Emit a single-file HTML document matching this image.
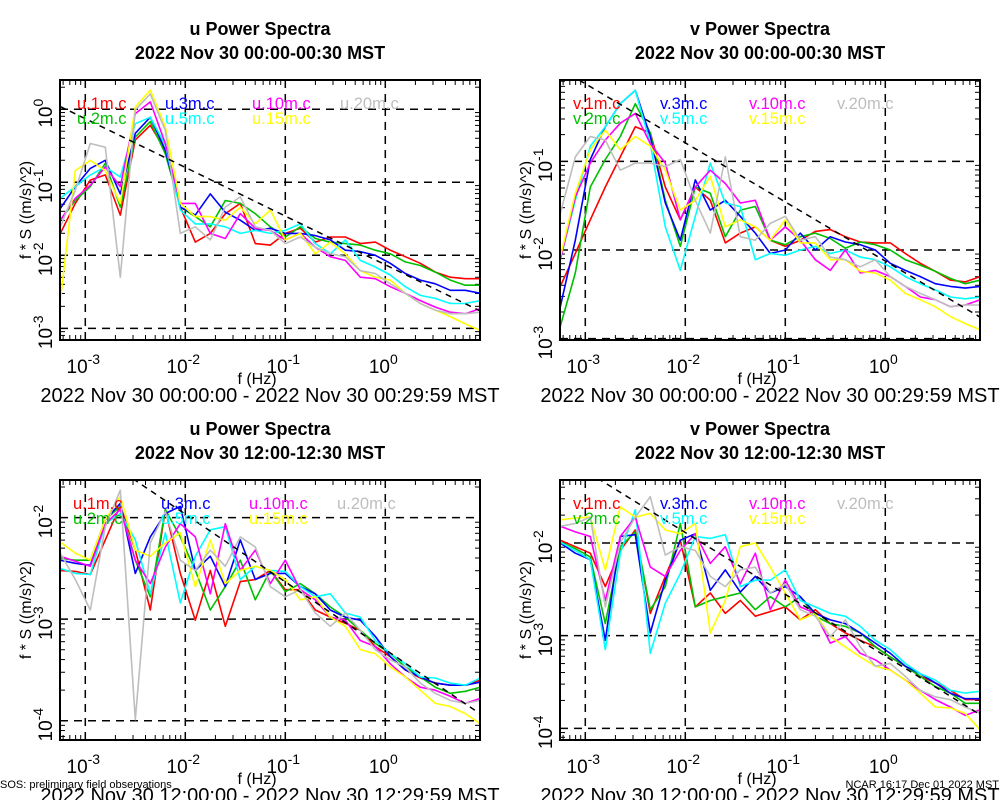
<!DOCTYPE html>
<html><head><meta charset="utf-8"><style>
html,body{margin:0;padding:0;background:#fff;}
svg{display:block;font-family:"Liberation Sans",sans-serif;}
</style></head><body>
<svg id="chart" width="1000" height="800" viewBox="0 0 1000 800"></svg>
<script>
// shared frequency grid: log10 f (Hz)
const logFreq = [-3.25,-3.1,-2.95,-2.8,-2.65,-2.5,-2.35,-2.2,-2.05,-1.9,-1.75,-1.6,-1.45,-1.3,-1.15,-1.0,-0.85,-0.7,-0.55,-0.4,-0.25,-0.1,0.05,0.2,0.35,0.5,0.65,0.8,0.95];
const seriesNames = ["1m","2m","3m","5m","10m","15m","20m"];
const xTickExps = [-3,-2,-1,0];

// log10(f*S) values, u night
const uNight1m = [-1.70,-1.29,-0.97,-0.90,-1.45,-0.42,-0.22,-0.56,-1.34,-1.82,-1.70,-1.43,-1.29,-1.84,-1.86,-1.70,-1.63,-1.82,-1.75,-1.75,-1.84,-1.82,-1.93,-2.02,-2.11,-2.23,-2.30,-2.32,-2.32];
const uNight2m = [-1.52,-1.25,-1.06,-0.74,-1.34,-0.38,-0.17,-0.61,-1.34,-1.47,-1.61,-1.25,-1.29,-1.43,-1.61,-1.75,-1.61,-1.77,-1.82,-1.84,-1.86,-1.93,-1.98,-2.09,-2.14,-2.23,-2.34,-2.41,-2.41];
const uNight3m = [-1.36,-1.06,-0.81,-0.70,-1.16,-0.33,-0.11,-0.56,-1.34,-1.45,-1.16,-1.41,-1.52,-1.66,-1.63,-1.70,-1.70,-1.73,-1.79,-1.93,-1.95,-2.00,-2.11,-2.25,-2.34,-2.39,-2.48,-2.48,-2.52];
const uNight5m = [-1.22,-1.06,-0.90,-0.79,-0.93,-0.20,-0.11,-0.49,-1.38,-1.57,-1.57,-1.61,-1.70,-1.66,-1.70,-1.66,-1.57,-1.84,-1.98,-1.79,-2.07,-2.16,-2.27,-2.43,-2.55,-2.59,-2.66,-2.66,-2.62];
const uNight10m = [-1.52,-1.22,-1.04,-0.79,-1.06,-0.06,0.10,-0.47,-1.29,-1.29,-1.70,-1.77,-1.43,-1.63,-1.66,-1.79,-1.70,-1.89,-2.02,-2.07,-2.30,-2.32,-2.43,-2.52,-2.62,-2.71,-2.78,-2.80,-2.73];
const uNight15m = [-2.62,-0.84,-0.70,-0.84,-1.29,0.03,0.26,-0.24,-1.29,-1.47,-1.47,-1.52,-1.34,-1.57,-1.38,-1.79,-1.70,-1.98,-1.82,-1.98,-2.21,-2.30,-2.34,-2.52,-2.66,-2.75,-2.84,-2.94,-3.03];
const uNight20m = [-1.61,-1.11,-0.47,-0.52,-2.30,-0.01,0.21,-0.29,-1.70,-1.61,-1.79,-1.34,-1.20,-1.61,-1.66,-1.84,-1.75,-1.89,-1.98,-2.02,-2.21,-2.25,-2.39,-2.52,-2.66,-2.75,-2.80,-2.80,-2.78];

// v night
const vNight1m = [-2.41,-2.04,-1.66,-1.29,-0.95,-0.61,-0.68,-1.29,-1.66,-1.29,-1.44,-1.92,-1.81,-1.74,-1.89,-1.96,-1.89,-1.79,-1.77,-1.85,-1.91,-1.92,-1.92,-2.04,-2.15,-2.24,-2.34,-2.36,-2.30];
const vNight2m = [-2.86,-2.26,-1.29,-0.98,-0.72,-0.35,-0.68,-1.44,-1.96,-1.29,-1.36,-1.85,-1.55,-1.51,-1.89,-1.94,-1.85,-1.81,-1.87,-1.98,-1.91,-1.94,-2.00,-2.11,-2.17,-2.24,-2.32,-2.38,-2.34];
const vNight3m = [-2.64,-1.89,-0.98,-0.61,-0.35,-0.20,-0.72,-1.47,-1.89,-1.21,-1.55,-1.44,-1.62,-1.81,-2.04,-2.00,-1.81,-2.00,-1.85,-1.91,-1.94,-2.00,-2.15,-2.23,-2.30,-2.38,-2.41,-2.43,-2.41];
const vNight5m = [-2.11,-1.44,-0.83,-0.61,-0.35,-0.20,-0.80,-1.74,-2.23,-1.62,-1.02,-1.47,-1.51,-2.11,-2.04,-2.06,-2.00,-1.96,-2.04,-2.00,-2.08,-2.11,-2.19,-2.30,-2.38,-2.45,-2.53,-2.55,-2.53];
const vNight10m = [-2.11,-1.40,-1.02,-0.76,-0.57,-0.46,-0.80,-1.02,-1.66,-1.29,-1.10,-1.25,-1.47,-1.44,-1.89,-1.74,-1.89,-2.11,-2.23,-2.00,-2.26,-2.23,-2.30,-2.41,-2.53,-2.56,-2.64,-2.62,-2.56];
const vNight15m = [-2.08,-1.36,-0.87,-0.65,-0.87,-0.72,-0.83,-1.10,-1.55,-1.44,-1.17,-1.74,-1.66,-1.74,-1.89,-1.66,-1.92,-1.92,-2.11,-2.11,-2.24,-2.26,-2.34,-2.49,-2.56,-2.64,-2.75,-2.83,-2.90];
const vNight20m = [-1.59,-0.95,-0.72,-0.76,-1.10,-1.02,-1.02,-1.06,-0.98,-1.44,-1.81,-0.95,-1.85,-1.89,-1.70,-1.62,-1.89,-1.85,-2.08,-2.11,-2.19,-2.11,-2.30,-2.41,-2.49,-2.56,-2.64,-2.62,-2.62];

// u day
const uDay1m = [-2.52,-2.53,-2.56,-2.22,-1.88,-2.32,-2.91,-1.92,-2.55,-3.01,-2.52,-3.07,-2.63,-2.61,-2.52,-2.71,-2.71,-2.91,-2.98,-3.04,-3.11,-3.27,-3.37,-3.50,-3.58,-3.63,-3.65,-3.65,-3.60];
const uDay2m = [-2.40,-2.42,-2.42,-2.02,-1.89,-2.42,-2.78,-1.92,-2.19,-2.52,-2.91,-2.68,-2.42,-2.81,-2.52,-2.73,-2.65,-2.75,-2.88,-2.98,-3.11,-3.24,-3.34,-3.47,-3.57,-3.67,-3.73,-3.71,-3.67];
const uDay3m = [-2.42,-2.45,-2.47,-2.02,-1.86,-2.55,-2.19,-1.96,-1.89,-2.52,-2.38,-2.68,-2.22,-2.61,-2.55,-2.55,-2.68,-2.75,-2.91,-2.98,-3.01,-3.17,-3.37,-3.50,-3.57,-3.63,-3.65,-3.65,-3.62];
const uDay5m = [-2.50,-2.55,-2.56,-2.06,-1.96,-2.22,-2.75,-2.15,-2.84,-2.38,-2.12,-2.09,-2.61,-2.48,-2.52,-2.53,-2.68,-2.78,-2.75,-2.94,-2.98,-3.21,-3.34,-3.44,-3.57,-3.58,-3.63,-3.65,-3.58];
const uDay10m = [-2.38,-2.43,-2.48,-2.06,-1.92,-2.42,-2.65,-2.29,-2.06,-2.19,-2.75,-2.06,-2.52,-2.32,-2.65,-2.42,-2.71,-2.81,-2.98,-3.01,-3.21,-3.27,-3.44,-3.57,-3.67,-3.70,-3.76,-3.83,-3.78];
const uDay15m = [-2.24,-2.35,-2.42,-2.02,-1.79,-2.32,-2.38,-2.25,-2.15,-2.68,-2.22,-2.65,-2.52,-2.48,-2.52,-2.61,-2.81,-2.78,-2.98,-3.07,-3.30,-3.34,-3.47,-3.57,-3.70,-3.83,-3.86,-3.93,-4.03];
const uDay20m = [-2.35,-2.61,-2.91,-2.09,-1.73,-3.99,-2.25,-1.94,-2.42,-2.52,-2.32,-2.48,-2.19,-2.29,-2.68,-2.78,-2.71,-2.94,-3.07,-2.94,-3.11,-3.30,-3.40,-3.47,-3.63,-3.73,-3.80,-3.83,-3.80];

// v day
const vDay1m = [-1.97,-2.04,-2.11,-2.47,-2.08,-1.86,-2.76,-2.36,-1.97,-2.69,-2.54,-2.76,-2.62,-2.79,-2.74,-2.69,-2.83,-2.72,-2.87,-2.97,-3.05,-3.12,-3.23,-3.33,-3.44,-3.51,-3.59,-3.69,-3.69];
const vDay2m = [-1.99,-2.06,-2.15,-2.87,-2.04,-1.88,-2.72,-2.47,-1.79,-2.69,-2.62,-2.58,-2.54,-2.72,-2.58,-2.69,-2.58,-2.79,-2.87,-2.90,-2.97,-3.12,-3.23,-3.33,-3.44,-3.55,-3.62,-3.73,-3.73];
const vDay3m = [-2.00,-2.11,-2.18,-3.05,-1.93,-1.91,-2.97,-2.40,-1.97,-1.90,-2.51,-2.29,-2.53,-2.36,-2.54,-2.47,-2.58,-2.76,-2.83,-2.87,-2.97,-3.08,-3.19,-3.33,-3.41,-3.51,-3.62,-3.68,-3.68];
const vDay5m = [-1.99,-2.08,-2.18,-3.15,-2.11,-1.64,-3.19,-2.65,-2.33,-1.93,-1.95,-1.91,-2.47,-2.40,-2.40,-2.29,-2.62,-2.69,-2.76,-2.79,-2.90,-3.05,-3.15,-3.30,-3.41,-3.48,-3.59,-3.62,-3.60];
const vDay10m = [-1.82,-1.88,-1.93,-2.62,-1.93,-1.72,-2.26,-2.36,-2.08,-1.90,-2.22,-2.04,-2.44,-2.11,-2.72,-2.40,-2.69,-2.76,-3.08,-3.01,-3.19,-3.26,-3.37,-3.48,-3.59,-3.69,-3.77,-3.86,-3.80];
const vDay15m = [-1.75,-1.73,-1.72,-2.29,-1.61,-1.72,-1.68,-1.86,-1.90,-1.79,-2.97,-2.62,-2.04,-2.00,-2.26,-2.54,-2.83,-2.76,-3.01,-3.12,-3.23,-3.33,-3.37,-3.48,-3.62,-3.77,-3.78,-3.84,-4.02];
const vDay20m = [-1.82,-1.79,-1.72,-2.69,-2.00,-1.72,-1.50,-2.13,-2.04,-2.08,-2.36,-2.47,-2.29,-2.26,-2.54,-2.44,-2.72,-2.79,-3.01,-2.83,-3.12,-3.33,-3.30,-3.44,-3.59,-3.66,-3.69,-3.77,-3.84];

// -2/3 reference line: log10 value at f = 1e-3 Hz, and slope
const refAt1e3 = [-0.13, -0.125, -1.30, -1.22];
const refSlope = -2/3;
const yTickExpsNight = [[0,-1,-2,-3],[-1,-2,-3]];
const yTickExpsDay = [[-2,-3,-4],[-2,-3,-4]];

const colors = ["#ff0000","#00c000","#0000ff","#00ffff","#ff00ff","#ffff00","#bebebe"];
const NS = "http://www.w3.org/2000/svg";
const svg = document.getElementById("chart");
function mk(tag, attrs, parent){const e=document.createElementNS(NS,tag);for(const k in attrs)e.setAttribute(k,attrs[k]);(parent||svg).appendChild(e);return e;}

const panels = [
 {id:"u-night", comp:"u", x0:60, x1:480, y0:80, y1:340, yTop:0.4, yBot:-3.16, yt:yTickExpsNight[0], series:[uNight1m,uNight2m,uNight3m,uNight5m,uNight10m,uNight15m,uNight20m], title2:"2022 Nov 30 00:00-00:30 MST", foot:"2022 Nov 30 00:00:00 - 2022 Nov 30 00:29:59 MST"},
 {id:"v-night", comp:"v", x0:560, x1:980, y0:80, y1:340, yTop:-0.083, yBot:-3.015, yt:yTickExpsNight[1], series:[vNight1m,vNight2m,vNight3m,vNight5m,vNight10m,vNight15m,vNight20m], title2:"2022 Nov 30 00:00-00:30 MST", foot:"2022 Nov 30 00:00:00 - 2022 Nov 30 00:29:59 MST"},
 {id:"u-day", comp:"u", x0:60, x1:480, y0:480, y1:740, yTop:-1.63, yBot:-4.19, yt:yTickExpsDay[0], series:[uDay1m,uDay2m,uDay3m,uDay5m,uDay10m,uDay15m,uDay20m], title2:"2022 Nov 30 12:00-12:30 MST", foot:"2022 Nov 30 12:00:00 - 2022 Nov 30 12:29:59 MST"},
 {id:"v-day", comp:"v", x0:560, x1:980, y0:480, y1:740, yTop:-1.32, yBot:-4.126, yt:yTickExpsDay[1], series:[vDay1m,vDay2m,vDay3m,vDay5m,vDay10m,vDay15m,vDay20m], title2:"2022 Nov 30 12:00-12:30 MST", foot:"2022 Nov 30 12:00:00 - 2022 Nov 30 12:29:59 MST"}
];
const xMin=-3.253, xMax=0.947;

panels.forEach((p,pi)=>{
  const g = mk("g",{});
  
  
  const X = lf => p.x0 + (lf - xMin)/(xMax - xMin)*(p.x1-p.x0);
  const Y = lv => p.y0 + (p.yTop - lv)/(p.yTop - p.yBot)*(p.y1-p.y0);
  const cx = (p.x0+p.x1)/2 - 10;
  const t1 = mk("text",{x:cx,y:p.y0-45,"text-anchor":"middle","font-size":"18","font-weight":"bold"},g);
  t1.textContent = p.comp+" Power Spectra";
  
  
  const t2 = mk("text",{x:cx,y:p.y0-21,"text-anchor":"middle","font-size":"18","font-weight":"bold"},g);
  t2.textContent = p.title2;
  
  
  const cp = mk("clipPath",{id:"clip"+pi},g);
  mk("rect",{x:p.x0,y:p.y0,width:p.x1-p.x0,height:p.y1-p.y0},cp);
  xTickExps.forEach(e=>{
    const l = mk("line",{x1:X(e),x2:X(e),y1:p.y0,y2:p.y1,stroke:"#000","stroke-width":1.5,"stroke-dasharray":"8,6"},g);
    
    
  });
  p.yt.forEach(e=>{
    const l = mk("line",{x1:p.x0,x2:p.x1,y1:Y(e),y2:Y(e),stroke:"#000","stroke-width":1.5,"stroke-dasharray":"8,6"},g);
    
    
  });
  for(let d=-4; d<=0; d++){ for(let m=2;m<=9;m++){ const lf=d+Math.log10(m); if(lf<xMin||lf>xMax) continue;
    mk("line",{x1:X(lf),x2:X(lf),y1:p.y1,y2:p.y1-5,stroke:"#000"},g);
    mk("line",{x1:X(lf),x2:X(lf),y1:p.y0,y2:p.y0+5,stroke:"#000"},g);}}
  for(let d=-5; d<=1; d++){ for(let m=2;m<=9;m++){ const lv=d+Math.log10(m); if(lv>p.yTop||lv<p.yBot) continue;
    mk("line",{x1:p.x0,x2:p.x0+5,y1:Y(lv),y2:Y(lv),stroke:"#000"},g);
    mk("line",{x1:p.x1,x2:p.x1-5,y1:Y(lv),y2:Y(lv),stroke:"#000"},g);}}
  const sg = mk("g",{"clip-path":"url(#clip"+pi+")"},g);
  p.series.forEach((vals,si)=>{
    const d = vals.map((v,i)=>(i?"L":"M")+X(logFreq[i]).toFixed(1)+","+Y(v).toFixed(1)).join("");
    const path = mk("path",{d:d,fill:"none",stroke:colors[si],"stroke-width":1.6,"stroke-linejoin":"round"},sg);
    
    
  });
  const r0 = refAt1e3[pi]+refSlope*(xMin+3), r1 = refAt1e3[pi]+refSlope*(xMax+3);
  const rl = mk("line",{x1:X(xMin),y1:Y(r0),x2:X(xMax),y2:Y(r1),stroke:"#000","stroke-width":1.5,"stroke-dasharray":"6,5","clip-path":"url(#clip"+pi+")"},g);
  
  
  const fr = mk("rect",{x:p.x0,y:p.y0,width:p.x1-p.x0,height:p.y1-p.y0,fill:"none",stroke:"#000","stroke-width":2},g);
  
  
  const lx = pi===0 ? [77,165,252,340] : (pi===2?[73,161,249,337]:[573,660,749,837]);
  const ly0 = p.y0+29, ly1 = p.y0+44;
  seriesNames.forEach((n,si)=>{
    const col = si<2?0:si<4?1:si<6?2:3;
    const row = (si===6)?0:(si%2);
    const t = mk("text",{x:lx[col],y:row?ly1:ly0,"font-size":"16.5",fill:colors[si]},g);
    t.textContent = p.comp+"."+n+".c";
    
    
  });
  xTickExps.forEach(e=>{
    const t = mk("text",{x:X(e)-2,y:p.y1+33,"text-anchor":"middle","font-size":"19"},g);
    
    
    const a = mk("tspan",{},t); a.textContent="10";
    const b = mk("tspan",{dy:"-9","font-size":"14"},t); b.textContent=String(e);
  });
  p.yt.forEach(e=>{
    const t = mk("text",{transform:"translate("+(p.x0-8)+","+(Y(e)+4)+") rotate(-90)","text-anchor":"middle","font-size":"19"},g);
    
    
    const a = mk("tspan",{},t); a.textContent="10";
    const b = mk("tspan",{dy:"-9","font-size":"14"},t); b.textContent=String(e);
  });
  const xt = mk("text",{x:(p.x0+p.x1)/2-13,y:p.y1+44,"text-anchor":"middle","font-size":"16"},g);
  xt.textContent="f (Hz)";
  
  
  const yt = mk("text",{transform:"translate("+(p.x0-29)+","+((p.y0+p.y1)/2)+") rotate(-90)","text-anchor":"middle","font-size":"16"},g);
  yt.textContent="f * S ((m/s)^2)";
  
  
  const ft = mk("text",{x:p.x0+210,y:p.y1+62,"text-anchor":"middle","font-size":"20"},g);
  ft.textContent=p.foot;
  
  
});
const n1 = mk("text",{x:0,y:788,"font-size":"11"});
n1.textContent="SOS: preliminary field observations";


const n2 = mk("text",{x:999,y:788,"font-size":"11","text-anchor":"end"});
n2.textContent="NCAR 16:17 Dec 01 2022 MST";


</script>
</body></html>
